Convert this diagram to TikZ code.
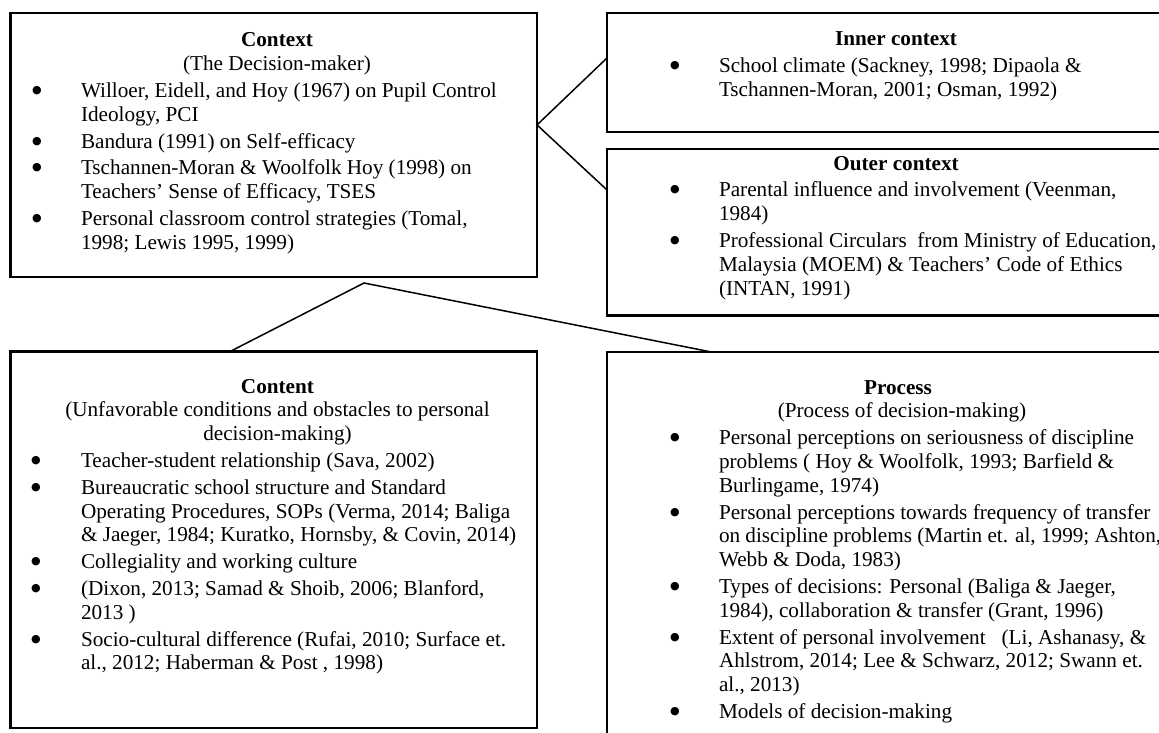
\documentclass[tikz,border=0pt]{standalone}
\usepackage{fontspec}
\setmainfont{Liberation Serif}
\newfontfamily\markfont{DejaVu Sans}
\usetikzlibrary{calc}

% Layout lengths for the text columns inside each frame
\newlength\bulx  % centre of the bullet, from the column's left edge
\newlength\txtx  % start of the item text, from the column's left edge
\newlength\hdw   % width in which the headings are centred

% Round list mark
\newcommand\bmark{\raisebox{4pt}{\fontsize{11}{11}\markfont ●}}
% A centred heading line
\newcommand\hd[1]{\noindent\makebox[\hdw][c]{#1}\par}
% First line of a bulleted item
\newcommand\bfirst[1]{\vspace{3pt}\noindent\hspace*{\bulx}\makebox[0pt][c]{\bmark}\hspace*{\dimexpr\txtx-\bulx\relax}#1\par}
% Following lines of the same item
\newcommand\bmore[1]{\noindent\hspace*{\txtx}#1\par}

% Column of text: #1 heading width, #2 bullet offset, #3 text offset
\newenvironment{boxcol}[3]{%
  \begin{minipage}[t]{760pt}%
  \fontsize{21.2}{23.8}\selectfont
  \setlength\parskip{0pt}%
  \setlength\hdw{#1}\setlength\bulx{#2}\setlength\txtx{#3}%
}{\end{minipage}}

\begin{document}
\begin{tikzpicture}[x=1pt,y=-1pt,
  frame/.style={draw=black, line width=2.2pt, rectangle, inner sep=0pt,
                outer sep=0pt, anchor=north west},
  link/.style={draw=black, line width=1.5pt},
  body/.style={anchor=base west, inner sep=0pt, outer sep=0pt}]
\useasboundingbox (0,0) rectangle (1159,733);
\fill[white] (0,0) rectangle (1159,733);

% Frames
\node[frame, minimum width=526.5pt, minimum height=264pt]   (ctx)     at (10.5,13) {};
\node[frame, minimum width=600pt,   minimum height=119pt]   (inner)   at (607,13) {};
\node[frame, minimum width=600pt,   minimum height=166.5pt] (outer)   at (607,149) {};
\node[frame, minimum width=526.5pt, minimum height=376.5pt] (content) at (10.5,351.5) {};
\node[frame, minimum width=600pt,   minimum height=420pt]   (process) at (607,352) {};

% Connectors
\coordinate (ctxR)     at ($(ctx.north east)!0.424!(ctx.south east)$);
\coordinate (innerL)   at ($(inner.north west)!0.378!(inner.south west)$);
\coordinate (outerL)   at ($(outer.north west)!0.246!(outer.south west)$);
\coordinate (fork)     at (364,283);
\coordinate (contentT) at ($(content.north west)!0.417!(content.north east)$);
\coordinate (processT) at ($(process.north west)!0.174!(process.north east)$);
\draw[link] (innerL) -- (ctxR) -- (outerL);
\draw[link] (contentT) -- (fork) -- (processT);

% Context
\node[body] (ctxtext) at (10,47) {\begin{boxcol}{534pt}{27pt}{71pt}%
\hd{\textbf{Context}}%
\hd{(The Decision-maker)}%
\bfirst{Willoer, Eidell, and Hoy (1967) on Pupil Control}%
\bmore{Ideology, PCI}%
\bfirst{Bandura (1991) on Self-efficacy}%
\bfirst{Tschannen-Moran \& Woolfolk Hoy (1998) on}%
\bmore{Teachers’ Sense of Efficacy, TSES}%
\bfirst{Personal classroom control strategies (Tomal,}%
\bmore{1998; Lewis 1995, 1999)}%
\end{boxcol}};

% Inner context
\node[body] (innertext) at (607,46) {\begin{boxcol}{578pt}{68pt}{112pt}%
\hd{\textbf{Inner context}}%
\bfirst{School climate (Sackney, 1998; Dipaola \&}%
\bmore{Tschannen-Moran, 2001; Osman, 1992)}%
\end{boxcol}};

% Outer context
\node[body] (outertext) at (607,170) {\begin{boxcol}{578pt}{68pt}{112pt}%
\hd{\textbf{Outer context}}%
\bfirst{Parental influence and involvement (Veenman,}%
\bmore{1984)}%
\bfirst{Professional Circulars\ \ from Ministry of Education,}%
\bmore{Malaysia (MOEM) \& Teachers’ Code of Ethics}%
\bmore{(INTAN, 1991)}%
\end{boxcol}};

% Content
\node[body] (contenttext) at (10,393) {\begin{boxcol}{535pt}{26pt}{71pt}%
\hd{\textbf{Content}}%
\hd{(Unfavorable conditions and obstacles to personal}%
\hd{decision-making)}%
\bfirst{Teacher-student relationship (Sava, 2002)}%
\bfirst{Bureaucratic school structure and Standard}%
\bmore{Operating Procedures, SOPs (Verma, 2014; Baliga}%
\bmore{\& Jaeger, 1984; Kuratko, Hornsby, \& Covin, 2014)}%
\bfirst{Collegiality and working culture}%
\bfirst{(Dixon, 2013; Samad \& Shoib, 2006; Blanford,}%
\bmore{2013 )}%
\bfirst{Socio-cultural difference (Rufai, 2010; Surface et.}%
\bmore{al., 2012; Haberman \& Post , 1998)}%
\end{boxcol}};

% Process
\node[body] (processtext) at (607,394) {\begin{boxcol}{582pt}{68pt}{112pt}%
\hd{\textbf{Process}}%
\hd{\hspace*{8pt}(Process of decision-making)}%
\bfirst{Personal perceptions on seriousness of discipline}%
\bmore{problems ( Hoy \& Woolfolk, 1993; Barfield \&}%
\bmore{Burlingame, 1974)}%
\bfirst{Personal perceptions towards frequency of transfer}%
\bmore{on discipline problems (Martin et. al, 1999; Ashton,}%
\bmore{Webb \& Doda, 1983)}%
\bfirst{Types of decisions: Personal (Baliga \& Jaeger,}%
\bmore{1984), collaboration \& transfer (Grant, 1996)}%
\bfirst{Extent of personal involvement\ \ \ (Li, Ashanasy, \&}%
\bmore{Ahlstrom, 2014; Lee \& Schwarz, 2012; Swann et.}%
\bmore{al., 2013)}%
\bfirst{Models of decision-making}%
\end{boxcol}};
\end{tikzpicture}
\end{document}
